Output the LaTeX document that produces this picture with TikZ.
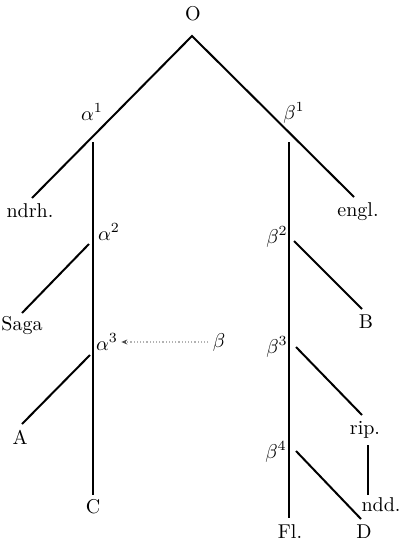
\documentclass[tikz,border=0pt]{standalone}
\usetikzlibrary{arrows.meta}
\begin{document}
\begin{tikzpicture}[x=0.5pt,y=-0.5pt,
  lbl/.style={inner sep=0pt, font=\fontsize{10}{12}\selectfont},
  br/.style={line width=1pt},
  stem/.style={line width=1.3pt},
  dots/.style={gray!60, densely dotted, line width=0.6pt, -{Stealth[length=3pt,width=2.5pt,black!70]}}]
\useasboundingbox (0,0) rectangle (404,546);
% labels
\node[lbl] (O) at (193,14) {O};
\node[lbl] (a1) at (92,112) {$\alpha^1$};
\node[lbl] (b1) at (294,113) {$\beta^1$};
\node[lbl] (ndrh) at (30,211) {ndrh.};
\node[lbl] (engl) at (358,212) {engl.};
\node[lbl] (a2) at (109,232) {$\alpha^2$};
\node[lbl] (saga) at (22,326) {Saga};
\node[lbl] (a3) at (107,342) {$\alpha^3$};
\node[lbl] (beta) at (219,342) {$\beta$};
\node[lbl] (A) at (20,437) {A};
\node[lbl] (C) at (93,507) {C};
\node[lbl] (b2) at (277,237) {$\beta^2$};
\node[lbl] (B) at (366,322) {B};
\node[lbl] (b3) at (277,347) {$\beta^3$};
\node[lbl] (rip) at (365,430) {rip.};
\node[lbl] (b4) at (276,452) {$\beta^4$};
\node[lbl] (ndd) at (381,505) {ndd.};
\node[lbl] (Fl) at (290,532) {Fl.};
\node[lbl] (D) at (364,532) {D};
% junction coordinates
\coordinate (top) at (192,36);
\coordinate (lend) at (32,198);
\coordinate (rend) at (354,197);
\coordinate (atop) at (93,142);
\coordinate (abot) at (93,495);
\coordinate (btop) at (289,142);
\coordinate (bbot) at (289,518);
\coordinate (s1) at (89,244);
\coordinate (s2) at (22,313);
\coordinate (t1) at (90,355);
\coordinate (t2) at (22,424);
\coordinate (u1) at (294,241);
\coordinate (u2) at (362,309);
\coordinate (v1) at (296,347);
\coordinate (v2) at (362,415);
\coordinate (w1) at (296,451);
\coordinate (w2) at (361,519);
\coordinate (r1) at (368,445);
\coordinate (r2) at (368,495);
% lines
\draw[br] (lend) -- (top) -- (rend);
\draw[stem] (atop) -- (abot);
\draw[stem] (btop) -- (bbot);
\draw[br] (s1) -- (s2);
\draw[br] (t1) -- (t2);
\draw[br] (u1) -- (u2);
\draw[br] (v1) -- (v2);
\draw[br] (w1) -- (w2);
\draw[br] (r1) -- (r2);
\draw[dots] ([xshift=-2pt]beta.west) -- ([xshift=1.5pt]a3.east);
\end{tikzpicture}
\end{document}
